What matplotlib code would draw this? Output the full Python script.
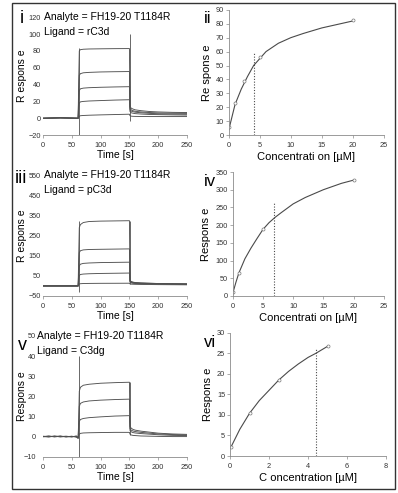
import matplotlib
matplotlib.use("Agg")
import matplotlib.pyplot as plt
from matplotlib.patches import Rectangle

plt.rcParams['font.family'] = ['Liberation Sans', 'DejaVu Sans']

# sensorgrams, panel i (rC3d)
t_i = [0, 30, 61, 62, 63, 65, 70, 80, 100, 125, 150, 151, 153, 156, 160, 170, 185, 200, 225, 250]
resp_i = [
    [0, 0.5, 0, 1, 2.5, 3, 3.3, 3.6, 4.0, 4.4, 4.8, 3, 2.5, 2.3, 2.2, 2.1, 2, 2, 2, 2],
    [0, 0.5, 0, 10, 18, 19.5, 20, 20.5, 21, 21.6, 22, 8, 6.5, 6, 5.5, 5, 4.5, 4.3, 4, 3.8],
    [0, 0.5, 0, 20, 33, 35, 35.8, 36.3, 36.8, 37.2, 37.5, 10, 8.5, 7.8, 7.2, 6.5, 5.8, 5.3, 5, 4.8],
    [0, 0.5, 0, 30, 51, 53, 54, 54.5, 55, 55.3, 55.5, 12, 10, 9, 8.3, 7.5, 6.8, 6.3, 6, 5.8],
    [0, 0.5, 0, 45, 80, 81.5, 82, 82.3, 82.5, 82.7, 82.8, 14, 12, 11, 10, 9, 8, 7.5, 7, 6.8],
]
spike_i_t = [62, 151]
spike_i_lo = [-20, -3]
spike_i_hi = [83, 100]

# panel iii (pC3d)
t_iii = t_i
resp_iii = [
    [0, 0, 0, 5, 10, 11, 12, 12.5, 13, 13.2, 13.5, 10, 9, 8.5, 8, 7.5, 7, 6.5, 6, 5.5],
    [0, 0, 0, 25, 52, 57, 59, 60.5, 62, 63, 64, 18, 15, 13, 12, 11, 10, 9, 8.5, 8],
    [0, 0, 0, 50, 100, 108, 112, 114, 116, 117, 118, 22, 18, 16, 14, 13, 12, 11, 10, 9.5],
    [0, 0, 0, 80, 165, 175, 179, 181, 182, 183, 184, 25, 20, 18, 16, 14, 13, 12, 11, 10],
    [0, 0, 0, 150, 290, 305, 315, 320, 322, 323, 324, 28, 22, 19, 17, 15, 13.5, 12, 11, 10],
]
spike_iii_t = [62, 151]
spike_iii_lo = [-30, 10]
spike_iii_hi = [325, 324]

# panel v (C3dg)
t_v = [0, 10, 20, 30, 40, 50, 58, 61, 62, 63, 65, 70, 80, 100, 125, 150, 151, 153, 156, 160, 170, 185, 200, 225, 250]
resp_v = [
    [0, 0.3, -0.2, 0.2, -0.1, 0.2, -0.3, -0.8, 0.5, 1.2, 1.6, 1.8, 1.9, 2.0, 2.1, 2.1, 1.2, 0.8, 0.6, 0.5, 0.3, 0.2, 0.1, 0, 0],
    [0.2, -0.1, 0.3, -0.2, 0.1, -0.2, 0.2, -0.6, 3, 7.5, 8.5, 9, 9.4, 9.8, 10.2, 10.4, 3, 2.4, 2, 1.8, 1.5, 1.2, 0.9, 0.6, 0.5],
    [-0.1, 0.2, 0, 0.3, -0.2, 0.1, -0.1, -0.7, 6, 15, 16.5, 17.2, 17.7, 18.1, 18.4, 18.6, 4, 3.2, 2.8, 2.5, 2.1, 1.7, 1.3, 1.0, 0.8],
    [0, -0.2, 0.2, 0, 0.2, -0.1, 0.3, -0.9, 9, 22.5, 24.5, 25.5, 26, 26.5, 26.8, 27, 5, 4.2, 3.6, 3.2, 2.7, 2.2, 1.7, 1.3, 1.1],
]
spike_v_t = [62, 151]
spike_v_lo = [-10, 1]
spike_v_hi = [40, 27]

# steady state fits
conc_ii = [0, 1, 2.5, 5, 20]
ss_ii = [6, 22.8, 38.8, 55.9, 82.7]
fit_ii_x = [0, 0.5, 1, 2, 3, 4, 5, 6, 8, 10, 12, 15, 18, 20]
fit_ii_y = [4, 13, 22, 33, 42, 50, 55, 60, 66, 70, 73, 77, 80, 82]
kd_ii = 4.14
kd_ii_top = 60

conc_iv = [0, 1, 5, 20]
ss_iv = [12, 64, 189, 327]
fit_iv_x = [0, 0.5, 1, 2, 3, 4, 5, 6, 7, 8, 10, 12, 15, 18, 20]
fit_iv_y = [8, 38, 65, 105, 135, 162, 188, 207, 222, 235, 260, 278, 300, 318, 327]
kd_iv = 6.75
kd_iv_top = 264

conc_vi = [0.05, 1, 2.5, 5]
ss_vi = [2.3, 10.4, 18.5, 26.8]
fit_vi_x = [0.05, 0.5, 1, 1.5, 2, 2.5, 3, 3.5, 4, 4.4, 5]
fit_vi_y = [2.2, 6.5, 10.4, 13.5, 16, 18.5, 20.6, 22.4, 24, 25, 26.7]
kd_vi = 4.4
kd_vi_top = 26.4

fig = plt.figure(figsize=(3.98, 4.93), dpi=100)

tick_kw = dict(labelsize=5.3, colors='#333333', length=2, width=0.5, pad=1.5)
gray = '#8a8a8a'


def sensorgram(rect, t, traces, sp_t, sp_lo, sp_hi, ylim, yticks, ylab, tag, tag_xy, ligand, tx, ypad, lpad):
    ax = fig.add_axes(rect)
    for r in traces:
        ax.plot(t, r, color='#505050', lw=0.65)
    ax.vlines(sp_t, sp_lo, sp_hi, color='#505050', lw=0.6)
    ax.set_xlim(0, 250)
    ax.set_ylim(*ylim)
    ax.set_xticks([0, 50, 100, 150, 200, 250])
    ax.set_yticks(yticks)
    for s in ['left', 'top', 'right']:
        ax.spines[s].set_visible(False)
    ax.spines['bottom'].set_color(gray)
    ax.spines['bottom'].set_linewidth(0.6)
    ax.tick_params(**tick_kw)
    ax.tick_params(axis='x', colors=gray, labelcolor='#333333', pad=3)
    ax.tick_params(axis='y', length=0, pad=ypad)
    ax.set_xlabel('Time [s]', fontsize=7.5, labelpad=1)
    ax.set_ylabel(ylab, fontsize=7.5, labelpad=lpad)
    ax.text(tx, 1.0, 'Analyte = FH19-20 T1184R', transform=ax.transAxes,
            fontsize=7.5, va='center', ha='left')
    ax.text(tx, 0.875, 'Ligand = ' + ligand, transform=ax.transAxes,
            fontsize=7.5, va='center', ha='left')
    fig.text(tag_xy[0], tag_xy[1], tag, fontsize=13, va='center', ha='left')
    return ax


def binding(rect, cx, cy, fx, fy, kd, kd_top, xlim, xticks, ylim, yticks, ylab, xlab, tag, tag_y):
    ax = fig.add_axes(rect)
    ax.plot(fx, fy, color='#4a4a4a', lw=0.8)
    ax.plot(cx, cy, 'o', ms=2.2, mfc='white', mec='#777777', mew=0.5)
    ax.vlines(kd, 0, kd_top, color='#4a4a4a', lw=0.8, linestyles=(0, (1, 1.5)))
    ax.set_xlim(*xlim)
    ax.set_ylim(*ylim)
    ax.set_xticks(xticks)
    ax.set_yticks(yticks)
    for s in ['top', 'right']:
        ax.spines[s].set_visible(False)
    for s in ['left', 'bottom']:
        ax.spines[s].set_color(gray)
        ax.spines[s].set_linewidth(0.6)
    ax.tick_params(**tick_kw)
    ax.tick_params(colors=gray, labelcolor='#333333')
    ax.tick_params(axis='x', pad=3)
    ax.set_xlabel(xlab, fontsize=8, labelpad=2)
    ax.set_ylabel(ylab, fontsize=8, labelpad=3)
    fig.text(0.513, tag_y, tag, fontsize=12, va='center', ha='left')
    return ax


sensorgram([0.108, 0.726, 0.362, 0.239], t_i, resp_i, spike_i_t, spike_i_lo, spike_i_hi,
           (-20, 120), [-20, 0, 20, 40, 60, 80, 100, 120], 'R espons e', 'i', (0.05, 0.962),
           'rC3d', 0.01, 1.5, 1)
sensorgram([0.108, 0.3996, 0.362, 0.245], t_iii, resp_iii, spike_iii_t, spike_iii_lo, spike_iii_hi,
           (-50, 550), [-50, 50, 150, 250, 350, 450, 550], 'R espons e', 'iii', (0.036, 0.638),
           'pC3d', 0.01, 1.5, 1)
sensorgram([0.108, 0.0736, 0.362, 0.245], t_v, resp_v, spike_v_t, spike_v_lo, spike_v_hi,
           (-10, 50), [-10, 0, 10, 20, 30, 40, 50], 'Respons e', 'v', (0.045, 0.30),
           'C3dg', -0.045, 5, -2.5)

binding([0.575, 0.726, 0.389, 0.254], conc_ii, ss_ii, fit_ii_x, fit_ii_y, kd_ii, kd_ii_top,
        (0, 25), [0, 5, 10, 15, 20, 25], (0, 90), list(range(0, 91, 10)),
        'Re spons e', 'Concentrati on [µM]', 'ii', 0.962)
binding([0.585, 0.3996, 0.379, 0.2515], conc_iv, ss_iv, fit_iv_x, fit_iv_y, kd_iv, kd_iv_top,
        (0, 25), [0, 5, 10, 15, 20, 25], (0, 350), list(range(0, 351, 50)),
        'Respons e', 'Concentrati on [µM]', 'iv', 0.632)
binding([0.578, 0.075, 0.392, 0.250], conc_vi, ss_vi, fit_vi_x, fit_vi_y, kd_vi, kd_vi_top,
        (0, 8), [0, 2, 4, 6, 8], (0, 30), list(range(0, 31, 5)),
        'Respons e', 'C oncentration [µM]', 'vi', 0.306)

# outer frame
fig.add_artist(Rectangle((0.031, 0.008), 0.961, 0.986, transform=fig.transFigure,
                         fill=False, ec='#333333', lw=1.0))

fig.savefig('out.png', dpi=100)
